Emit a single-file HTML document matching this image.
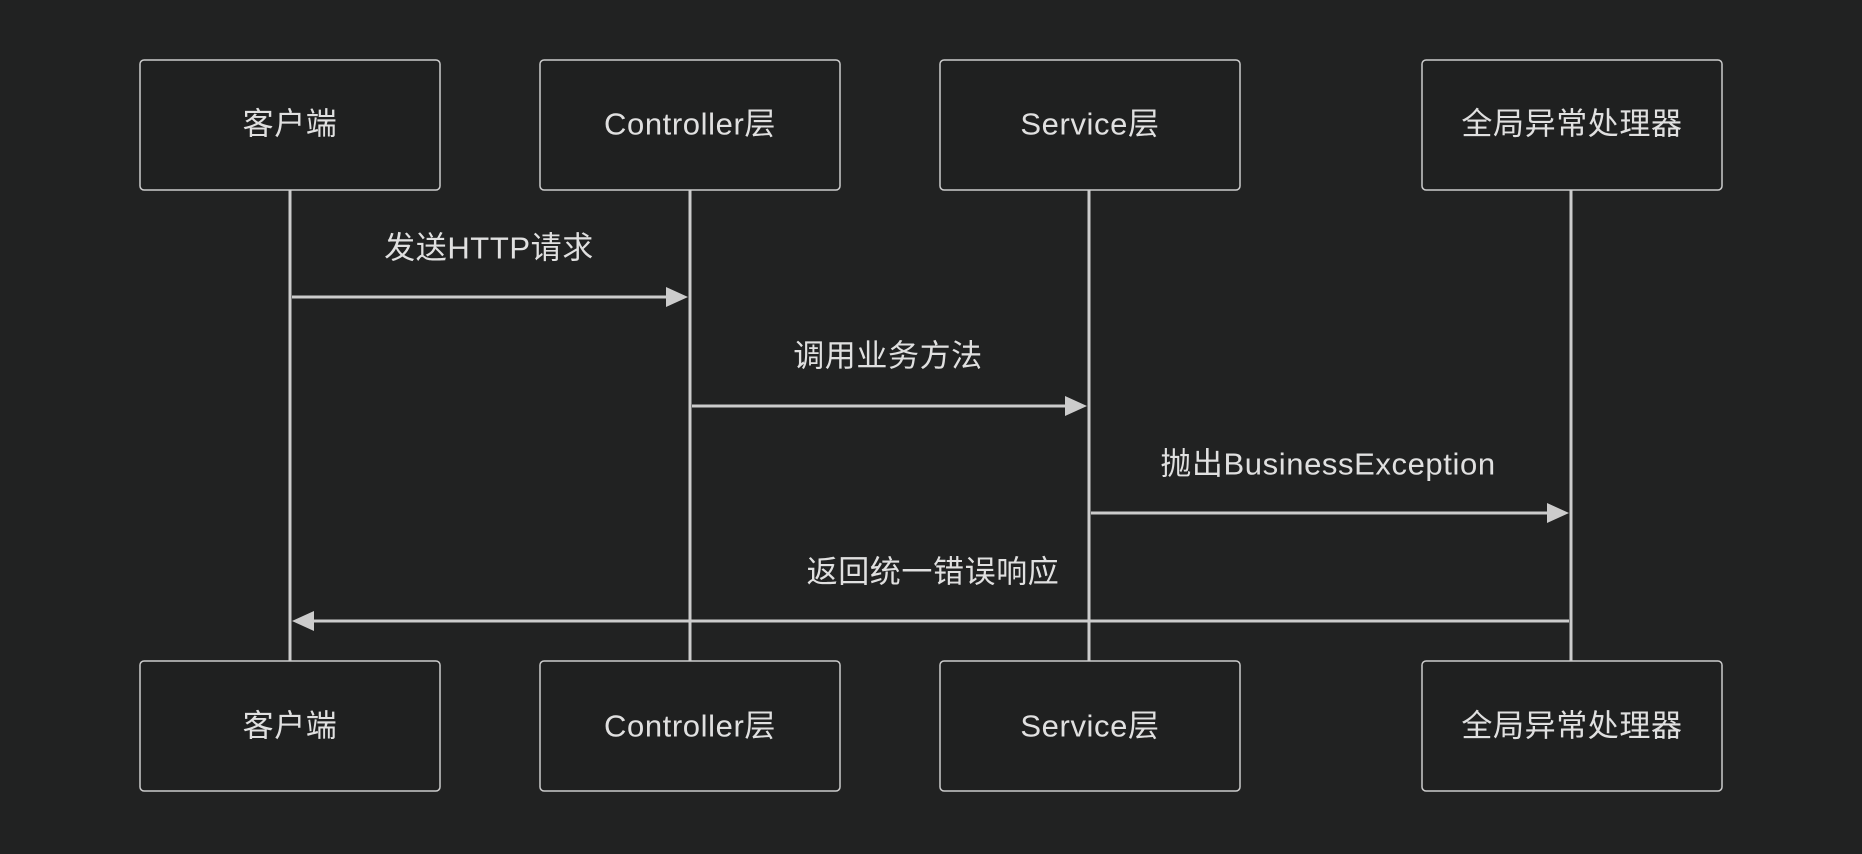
<!DOCTYPE html>
<html><head><meta charset="utf-8"><style>
html,body{margin:0;padding:0;background:#212222;}
svg{display:block}
text{font-family:"Liberation Sans","Noto Sans CJK SC",sans-serif;font-size:31px;letter-spacing:0.6px;fill:#e0e0e0;text-anchor:middle;dominant-baseline:central}
</style></head><body>
<svg width="1862" height="854" viewBox="0 0 1862 854" xmlns="http://www.w3.org/2000/svg">
<rect width="1862" height="854" fill="#212222"/>
<g stroke="#cccccc" stroke-width="3">
<line x1="290" y1="190" x2="290" y2="661"/>
<line x1="690" y1="190" x2="690" y2="661"/>
<line x1="1089" y1="190" x2="1089" y2="661"/>
<line x1="1571" y1="190" x2="1571" y2="661"/>
<line x1="292" y1="297" x2="668" y2="297"/>
<line x1="692" y1="406" x2="1067" y2="406"/>
<line x1="1091" y1="513" x2="1549" y2="513"/>
<line x1="1569" y1="621" x2="313" y2="621"/>
</g>
<g fill="#cccccc">
<polygon points="688,297 666,287 666,307"/>
<polygon points="1087,406 1065,396 1065,416"/>
<polygon points="1569,513 1547,503 1547,523"/>
<polygon points="292,621 314,611 314,631"/>
</g>
<g fill="#1f2020" stroke="#cccccc" stroke-width="1.5">
<rect x="140" y="60" width="300" height="130" rx="4"/>
<rect x="540" y="60" width="300" height="130" rx="4"/>
<rect x="940" y="60" width="300" height="130" rx="4"/>
<rect x="1422" y="60" width="300" height="130" rx="4"/>
<rect x="140" y="661" width="300" height="130" rx="4"/>
<rect x="540" y="661" width="300" height="130" rx="4"/>
<rect x="940" y="661" width="300" height="130" rx="4"/>
<rect x="1422" y="661" width="300" height="130" rx="4"/>
</g>
<text x="290" y="124">客户端</text>
<text x="690" y="124">Controller层</text>
<text x="1090" y="124">Service层</text>
<text x="1572" y="124">全局异常处理器</text>
<text x="290" y="726">客户端</text>
<text x="690" y="726">Controller层</text>
<text x="1090" y="726">Service层</text>
<text x="1572" y="726">全局异常处理器</text>
<text x="489" y="248">发送HTTP请求</text>
<text x="888" y="356">调用业务方法</text>
<text x="1328" y="464">抛出BusinessException</text>
<text x="933" y="572">返回统一错误响应</text>
</svg>
</body></html>
